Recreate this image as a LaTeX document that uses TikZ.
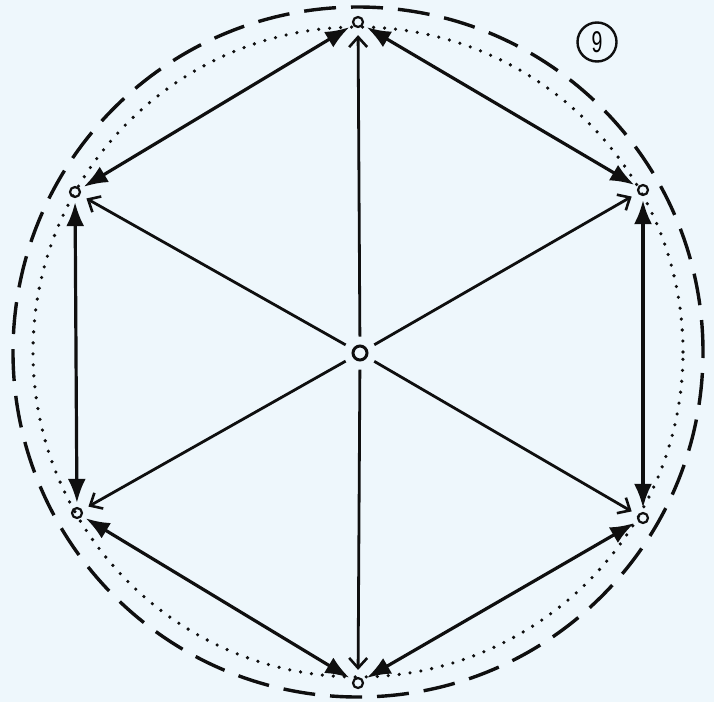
\documentclass[tikz,border=0pt]{standalone}
\usepackage{fontspec}
\setsansfont{Liberation Sans}
\usetikzlibrary{arrows.meta}
\definecolor{bg}{RGB}{238,247,252}
\definecolor{ink}{RGB}{15,15,15}
\begin{document}
\begin{tikzpicture}[x=1pt,y=-1pt,
  vtx/.style={circle,draw=ink,line width=2.2pt,minimum size=10pt,inner sep=0pt},
  ctr/.style={circle,draw=ink,line width=3pt,minimum size=14pt,inner sep=0pt},
  edgeline/.style={draw=ink,line width=3.2pt,shorten <=4pt,shorten >=4pt,
    {Latex[length=24pt,width=18pt]}-{Latex[length=24pt,width=18pt]}},
  spoke/.style={draw=ink,line width=2.8pt,shorten <=8pt,shorten >=7pt,
    -{Straight Barb[length=10pt,width=18pt,line width=2.6pt]}},
  outerring/.style={draw=ink,line width=3.4pt,dash pattern=on 32pt off 15pt},
  innerring/.style={draw=ink,line width=3.6pt,line cap=round,dash pattern=on 0pt off 11pt},
  tag/.style={circle,draw=ink,line width=2.4pt,minimum size=39pt,inner sep=0pt}
]
\fill[bg] (0,0) rectangle (714,702);
\useasboundingbox (0,0) rectangle (714,702);
\coordinate (o) at (358,352);
\draw[outerring] (o) circle[radius=345pt];
\draw[innerring] (o) circle[radius=325pt];
\node[ctr] (c) at (360,353) {};
\node[vtx] (t) at (358,22) {};
\node[vtx] (ur) at (643,190) {};
\node[vtx] (lr) at (643,518) {};
\node[vtx] (b) at (358,683) {};
\node[vtx] (ll) at (77,513) {};
\node[vtx] (ul) at (75,192) {};
\draw[edgeline] (t) -- (ur);
\draw[edgeline] (ur) -- (lr);
\draw[edgeline] (lr) -- (b);
\draw[edgeline] (b) -- (ll);
\draw[edgeline] (ll) -- (ul);
\draw[edgeline] (ul) -- (t);
\draw[spoke] (c) -- (t);
\draw[spoke] (c) -- (ur);
\draw[spoke] (c) -- (lr);
\draw[spoke] (c) -- (b);
\draw[spoke] (c) -- (ll);
\draw[spoke] (c) -- (ul);
\node[tag] (nine) at (597,42) {\sffamily\fontsize{30}{30}\selectfont\scalebox{0.65}[1]{9}};
\end{tikzpicture}
\end{document}
